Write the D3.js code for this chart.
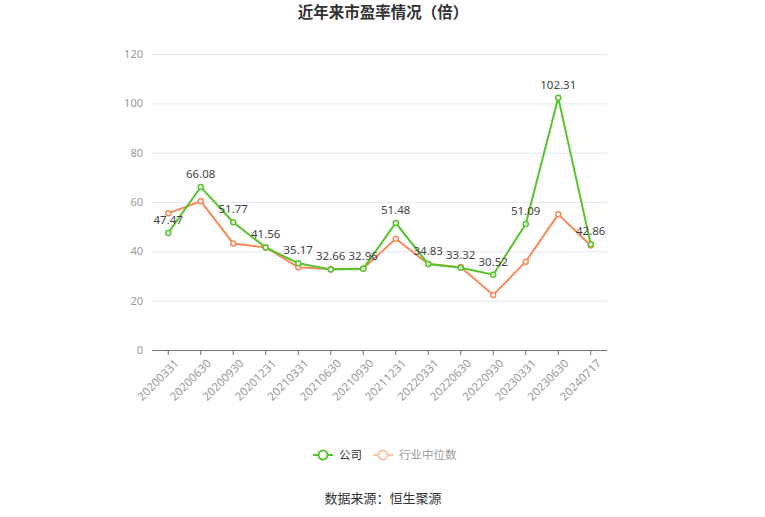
<!DOCTYPE html>
<html><head><meta charset="utf-8">
<script src="https://cdn.jsdelivr.net/npm/d3@7/dist/d3.min.js"></script>
<style>body{margin:0;background:#fff;}svg{display:block;font-family:"Noto Sans CJK SC","Noto Sans",sans-serif;}</style>
</head><body><svg id="c" width="765" height="517"></svg>
<script>
const categories = ["20200331","20200630","20200930","20201231","20210331","20210630","20210930","20211231","20220331","20220630","20220930","20230331","20230630","20240717"];
const companyPE = [47.47,66.08,51.77,41.56,35.17,32.66,32.96,51.48,34.83,33.32,30.52,51.09,102.31,42.86];
const industryPE = [55.4,60.3,43.2,41.6,33.5,32.7,33.0,45.1,34.9,33.6,22.3,35.8,55.0,42.4];
const yTicks = [0,20,40,60,80,100,120];
const seriesNames = ["公司","行业中位数"];

const svg = d3.select("#c");
const mLeft = 152, mRight = 607, mTop = 54, mBottom = 350;
const x = d3.scaleBand().domain(categories).range([mLeft, mRight]);
const y = d3.scaleLinear().domain([0,120]).range([mBottom, mTop]);
const cx = d => x(d) + x.bandwidth()/2;
const green = "#55c52b", orange = "#f7895a";
const numFont = "'Noto Sans','Noto Sans CJK SC',sans-serif";

svg.append("text").attr("x",383).attr("y",18).attr("text-anchor","middle")
  .attr("font-size",15.5).attr("font-weight","bold").attr("fill","#333").text("近年来市盈率情况（倍）");

// grid
const yAxis = svg.append("g").attr("transform",`translate(${mLeft},0)`)
  .call(d3.axisLeft(y).tickValues(yTicks).tickSize(-(mRight-mLeft)).tickPadding(9));
yAxis.select(".domain").remove();
yAxis.selectAll(".tick line").attr("stroke","#e6e8f2");
yAxis.selectAll(".tick line").filter(d=>d===0).remove();
yAxis.selectAll("text").attr("fill","#999").attr("font-size",11).attr("font-family",numFont);

// x axis
const xAxis = svg.append("g").attr("transform",`translate(0,${mBottom})`)
  .call(d3.axisBottom(x).tickSize(5).tickPadding(4));
xAxis.select(".domain").attr("stroke","#6e7079").attr("d",`M${mLeft},0.5H${mRight}`);
xAxis.selectAll(".tick line").attr("stroke","#6e7079");
xAxis.selectAll("text").attr("fill","#999").attr("font-size",11.5)
  .attr("font-family",numFont)
  .attr("text-anchor","end").attr("dy","0.35em")
  .attr("transform","translate(2,5) rotate(-45)");

function drawSeries(vals, color){
  const line = d3.line().x((d,i)=>cx(categories[i])).y(d=>y(d));
  svg.append("path").datum(vals).attr("d",line).attr("fill","none").attr("stroke",color).attr("stroke-width",2);
  svg.append("g").selectAll("circle").data(vals).join("circle")
    .attr("cx",(d,i)=>cx(categories[i])).attr("cy",d=>y(d)).attr("r",2.5)
    .attr("fill","#fff").attr("stroke",color).attr("stroke-width",1.5);
}
drawSeries(industryPE, orange);
drawSeries(companyPE, green);

svg.append("g").selectAll("text").data(companyPE).join("text")
  .attr("x",(d,i)=>cx(categories[i])).attr("y",d=>y(d)-9)
  .attr("text-anchor","middle").attr("font-size",11.5).attr("fill","#444")
  .attr("font-family",numFont)
  .text(d=>d.toFixed(2));

// legend
const lg = svg.append("g");
const legendItems = [{name:seriesNames[0],color:green,text:"#333",x:313},{name:seriesNames[1],color:"#fbc4ab",text:"#999",x:373}];
legendItems.forEach(it=>{
  lg.append("line").attr("x1",it.x).attr("x2",it.x+20).attr("y1",455).attr("y2",455).attr("stroke",it.color).attr("stroke-width",2);
  lg.append("circle").attr("cx",it.x+10).attr("cy",455).attr("r",4.5).attr("fill","#fff").attr("stroke",it.color).attr("stroke-width",2);
  lg.append("text").attr("x",it.x+26).attr("y",459).attr("font-size",11.5).attr("fill",it.text).text(it.name);
});

svg.append("text").attr("x",383).attr("y",503).attr("text-anchor","middle")
  .attr("font-size",13).attr("fill","#333").text("数据来源：恒生聚源");
</script></body></html>
